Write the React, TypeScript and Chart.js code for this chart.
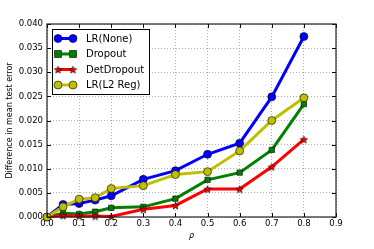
import React, { useEffect, useRef } from "react";
import { Chart, registerables } from "chart.js";

Chart.register(...registerables);

const xValues = [0, 0.05, 0.1, 0.15, 0.2, 0.3, 0.4, 0.5, 0.6, 0.7, 0.8];
const lrNone = [0, 0.0026, 0.0028, 0.0035, 0.0044, 0.0078, 0.0096, 0.013, 0.0153, 0.0249, 0.0374];
const dropout = [0, 0.0008, 0.0006, 0.0011, 0.0019, 0.0021, 0.0038, 0.0077, 0.0092, 0.0139, 0.0234];
const detDropout = [0, 0.0003, 0.0002, 0.0002, 0.0001, 0.0016, 0.0024, 0.0058, 0.0058, 0.0104, 0.0161];
const lrL2 = [0, 0.0021, 0.0037, 0.004, 0.0059, 0.0065, 0.0088, 0.0094, 0.0137, 0.02, 0.0247];
const seriesNames = ["LR(None)", "Dropout", "DetDropout", "LR(L2 Reg)"];
const seriesColors = ["#0000ff", "#008000", "#ff0000", "#bfbf00"];
const xTicks = [0, 0.1, 0.2, 0.3, 0.4, 0.5, 0.6, 0.7, 0.8, 0.9];
const yTicks = [0, 0.005, 0.01, 0.015, 0.02, 0.025, 0.03, 0.035, 0.04];

const FONT = "'DejaVu Sans', sans-serif";

function makeStar(size: number, fill: string): HTMLCanvasElement {
  const c = document.createElement("canvas");
  c.width = size;
  c.height = size;
  const ctx = c.getContext("2d")!;
  const cx = size / 2, cy = size / 2 + 0.5;
  const R = size / 2 - 0.6, r = R * 0.42;
  ctx.beginPath();
  for (let i = 0; i < 10; i++) {
    const a = -Math.PI / 2 + (i * Math.PI) / 5;
    const rad = i % 2 === 0 ? R : r;
    const px = cx + rad * Math.cos(a), py = cy + rad * Math.sin(a);
    if (i === 0) ctx.moveTo(px, py); else ctx.lineTo(px, py);
  }
  ctx.closePath();
  ctx.fillStyle = fill;
  ctx.fill();
  ctx.strokeStyle = "#000";
  ctx.lineWidth = 0.6;
  ctx.stroke();
  return c;
}

function drawMarker(ctx: CanvasRenderingContext2D, kind: string, x: number, y: number, color: string, star: HTMLCanvasElement) {
  ctx.save();
  ctx.fillStyle = color;
  ctx.strokeStyle = "#000";
  ctx.lineWidth = 0.6;
  if (kind === "circle") {
    ctx.beginPath();
    ctx.arc(x, y, 4, 0, Math.PI * 2);
    ctx.fill();
    ctx.stroke();
  } else if (kind === "rect") {
    ctx.beginPath();
    ctx.rect(x - 3.5, y - 3.5, 7, 7);
    ctx.fill();
    ctx.stroke();
  } else {
    ctx.drawImage(star, x - star.width / 2, y - star.height / 2);
  }
  ctx.restore();
}

export default function App() {
  const ref = useRef<HTMLCanvasElement>(null);
  useEffect(() => {
    document.body.style.margin = "0";
    const star = makeStar(9, "#ff0000");
    const kinds = ["circle", "rect", "star", "circle"];
    const all = [lrNone, dropout, detDropout, lrL2];
    const orders = [4, 3, 2, 1];

    const legendPlugin = {
      id: "mplLegend",
      afterDatasetsDraw(chart: any) {
        const ctx = chart.ctx as CanvasRenderingContext2D;
        const a = chart.chartArea;
        ctx.save();
        ctx.strokeStyle = "#000";
        ctx.lineWidth = 1;
        const xs = chart.scales.x, ys = chart.scales.y;
        for (const v of xTicks) {
          const px = Math.round(xs.getPixelForValue(v)) + 0.5;
          ctx.beginPath();
          ctx.moveTo(px, a.bottom); ctx.lineTo(px, a.bottom - 4);
          ctx.moveTo(px, a.top); ctx.lineTo(px, a.top + 4);
          ctx.stroke();
        }
        for (const v of yTicks) {
          const py = Math.round(ys.getPixelForValue(v)) + 0.5;
          ctx.beginPath();
          ctx.moveTo(a.left, py); ctx.lineTo(a.left + 4, py);
          ctx.moveTo(a.right, py); ctx.lineTo(a.right - 4, py);
          ctx.stroke();
        }
        ctx.strokeStyle = "#222";
        ctx.lineWidth = 1.2;
        ctx.strokeRect(a.left, a.top, a.right - a.left, a.bottom - a.top);
        ctx.restore();

        const bx = a.left + 5, by = a.top + 5, bw = 97, bh = 65;
        ctx.save();
        ctx.fillStyle = "#fff";
        ctx.fillRect(bx, by, bw, bh);
        ctx.strokeStyle = "#000";
        ctx.lineWidth = 1;
        ctx.strokeRect(bx + 0.5, by + 0.5, bw, bh);
        ctx.font = `10px ${FONT}`;
        ctx.textBaseline = "middle";
        ctx.textAlign = "left";
        for (let i = 0; i < 4; i++) {
          const ry = by + 9.5 + i * 15.5;
          const x1 = bx + 6, x2 = bx + 21;
          ctx.strokeStyle = seriesColors[i];
          ctx.lineWidth = 3;
          ctx.beginPath();
          ctx.moveTo(x1, ry); ctx.lineTo(x2, ry);
          ctx.stroke();
          drawMarker(ctx, kinds[i], x1, ry, seriesColors[i], star);
          drawMarker(ctx, kinds[i], x2, ry, seriesColors[i], star);
          ctx.fillStyle = "#000";
          ctx.fillText(seriesNames[i], bx + 34, ry + 0.5);
        }
        ctx.restore();
      },
    };

    const chart = new Chart(ref.current!, {
      type: "line",
      data: {
        datasets: all.map((vals, i) => ({
          label: seriesNames[i],
          data: xValues.map((x, j) => ({ x, y: vals[j] })),
          borderColor: seriesColors[i],
          backgroundColor: seriesColors[i],
          borderWidth: 3,
          pointStyle: kinds[i] === "star" ? star : kinds[i],
          pointRadius: kinds[i] === "rect" ? 3.8 : 4,
          pointBorderColor: "#000",
          pointBorderWidth: 0.6,
          pointBackgroundColor: seriesColors[i],
          tension: 0,
          order: orders[i],
          clip: false,
        })),
      },
      options: {
        responsive: false,
        animation: false,
        layout: { padding: { top: 24, right: 38, left: 0, bottom: 0 } },
        plugins: {
          legend: { display: false },
          tooltip: { enabled: false },
        },
        scales: {
          x: {
            type: "linear",
            min: 0,
            max: 0.9,
            ticks: {
              stepSize: 0.1,
              color: "#000",
              font: { family: FONT, size: 8.5 },
              padding: 2,
              callback: (v: any) => Number(v).toFixed(1),
            },
            grid: { color: "#999", lineWidth: 0.8, drawTicks: false },
            border: { display: false, dash: [1, 2] },
            title: {
              display: true,
              text: "ρ",
              color: "#000",
              font: { family: FONT, size: 8, style: "italic" },
              padding: { top: 3, bottom: 8 },
            },
            afterFit: (s: any) => { s.height = 32; },
          },
          y: {
            type: "linear",
            min: 0,
            max: 0.04,
            ticks: {
              stepSize: 0.005,
              color: "#000",
              font: { family: FONT, size: 8.5 },
              padding: 4,
              callback: (v: any) => Number(v).toFixed(3),
            },
            grid: { color: "#999", lineWidth: 0.8, drawTicks: false },
            border: { display: false, dash: [1, 2] },
            title: {
              display: true,
              text: "Difference in mean test error",
              color: "#000",
              font: { family: FONT, size: 8 },
              padding: { top: 5, bottom: 0 },
            },
            afterFit: (s: any) => { s.width = 47; },
          },
        },
      },
      plugins: [legendPlugin],
    } as any);

    return () => chart.destroy();
  }, []);
  return <canvas ref={ref} width={374} height={249} style={{ display: "block" }} />;
}
